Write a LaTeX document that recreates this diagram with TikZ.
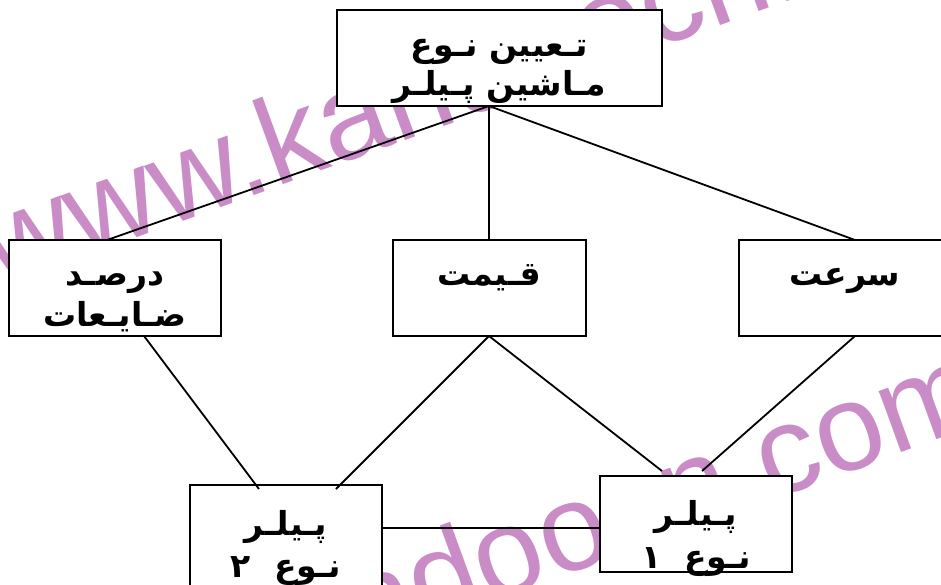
\documentclass[tikz,border=0pt]{standalone}
\usepackage{fontspec}
\usetikzlibrary{calc}
\TeXXeTstate=1
\newfontfamily\fa[Script=Arabic]{DejaVu Sans}
\newfontfamily\wmfont{Liberation Sans}
\definecolor{wm}{RGB}{201,140,199}
\begin{document}
\begin{tikzpicture}[x=1pt,y=-1pt,
  box/.style={draw, line width=2.5pt, fill=white, inner sep=0pt, outer sep=0pt},
  txt/.style={font=\fa\bfseries\fontsize{33}{33}\selectfont, inner sep=0pt, anchor=base},
  link/.style={line width=1.8pt},
  wmark/.style={text=wm, font=\wmfont\fontsize{123}{123}\selectfont, anchor=base west, rotate=20, inner sep=0pt}]
\useasboundingbox (0,0) rectangle (941,584);
\clip (0,0) rectangle (941,584);
% watermark
\node[wmark] (wm1) at (-1,288) {www.kandoocn.com};
\node[wmark] (wm2) at (-38,795) {www.kandoocn.com};
% boxes
\node[box, minimum width=325pt, minimum height=96pt] (top) at (499.5,58) {};
\node[box, minimum width=212pt, minimum height=96pt] (left) at (115,288) {};
\node[box, minimum width=193pt, minimum height=96pt] (mid) at (489.5,288) {};
\node[box, minimum width=212pt, minimum height=96pt] (right) at (845,288) {};
\node[box, minimum width=192pt, minimum height=110pt] (bl) at (286,540) {};
\node[box, minimum width=192pt, minimum height=96pt] (br) at (696,524) {};
% texts
\node[txt] (top1) at (499.5,56) {\beginR تـعیین نـوع\endR};
\node[txt] (top2) at (499.5,95) {\beginR مـاشین پـیلـر\endR};
\node[txt] (left1) at (115,285) {\beginR درصـد\endR};
\node[txt] (left2) at (115,326) {\beginR ضـایـعات\endR};
\node[txt] (mid1) at (489.5,285) {\beginR قـیمت\endR};
\node[txt] (right1) at (845,285) {\beginR سرعت\endR};
\node[txt] (bl1) at (286,535) {\beginR پـیلـر\endR};
\node[txt] (bl2) at (286,577) {\beginR نـوع\ \ ۲\endR};
\node[txt] (br1) at (696,525) {\beginR پـیلـر\endR};
\node[txt] (br2) at (696,568) {\beginR نـوع\ \ ۱\endR};
% connectors
\coordinate (topS) at ($(top.south west)+(152,0)$);
\draw[link] (topS) -- ($(left.north west)+(98,0)$);
\draw[link] (topS) -- (topS |- mid.north);
\draw[link] (topS) -- ($(right.north west)+(116,0)$);
\draw[link] ($(left.south west)+(135,0)$) -- ($(bl.north west)+(69,4)$);
\coordinate (midS) at ($(mid.south west)+(96,0)$);
\draw[link] (midS) -- ($(bl.north west)+(146,4)$);
\draw[link] (midS) -- ($(br.north west)+(62,-5)$);
\draw[link] ($(right.south west)+(116,0)$) -- ($(br.north west)+(102,-5)$);
\draw[link] (bl.east |- 0,528) -- (br.west |- 0,528);
\end{tikzpicture}
\end{document}
